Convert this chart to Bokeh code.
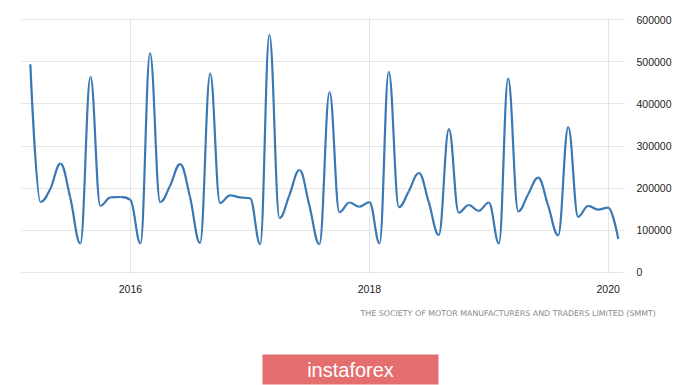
from datetime import datetime
from bokeh.plotting import figure
from bokeh.layouts import column
from bokeh.models import Range1d, FixedTicker, DatetimeTickFormatter, BasicTickFormatter, ColumnDataSource, Label, Title
from bokeh.core.properties import value
from bokeh.embed import file_html
from bokeh.resources import INLINE

# ---- data (monthly new car registrations, Mar 2015 - Feb 2020) ----
start_year, start_month = 2015, 3
registrations = [
    494000, 167000, 198000, 258000, 178000, 69000, 464000, 158000, 178000, 179000,            # 2015 Mar-Dec
    172000, 69000, 520000, 167000, 205000, 257000, 180000, 70000, 472000, 165000, 183000, 178000,  # 2016
    176000, 67000, 564000, 129000, 183000, 243000, 160000, 67000, 428000, 143000, 166000, 156000,  # 2017
    167000, 69000, 476000, 155000, 192000, 236000, 168000, 89000, 340000, 142000, 160000, 146000,  # 2018
    166000, 69000, 460000, 145000, 185000, 225000, 160000, 88000, 345000, 132000, 158000, 149000,  # 2019
    154000, 79500,                                                                             # 2020 Jan-Feb
]
x_tick_years = [2016, 2018, 2020]
y_ticks = [0, 100000, 200000, 300000, 400000, 500000, 600000]
source_text = "THE SOCIETY OF MOTOR MANUFACTURERS AND TRADERS LIMITED (SMMT)"
brand_text = "instaforex"


def ms(d):
    return (d - datetime(1970, 1, 1)).total_seconds() * 1000.0


dates = []
y, m = start_year, start_month
for _ in registrations:
    dates.append(datetime(y, m, 1))
    m += 1
    if m > 12:
        m = 1
        y += 1
xs = [ms(d) for d in dates]
ys = list(registrations)

# Highcharts-style spline control points
n = len(xs)
lcx, lcy, rcx, rcy = xs[:], ys[:], xs[:], ys[:]
sm = 1.5
den = sm + 1
for i in range(1, n - 1):
    px, py = xs[i], ys[i]
    lx, ly = xs[i - 1], ys[i - 1]
    nx, ny = xs[i + 1], ys[i + 1]
    a_x = (sm * px + lx) / den
    a_y = (sm * py + ly) / den
    b_x = (sm * px + nx) / den
    b_y = (sm * py + ny) / den
    corr = 0.0
    if b_x != a_x:
        corr = ((b_y - a_y) * (b_x - px)) / (b_x - a_x) + py - b_y
    a_y += corr
    b_y += corr
    if a_y > ly and a_y > py:
        a_y = max(ly, py)
        b_y = 2 * py - a_y
    elif a_y < ly and a_y < py:
        a_y = min(ly, py)
        b_y = 2 * py - a_y
    if b_y > ny and b_y > py:
        b_y = max(ny, py)
        a_y = 2 * py - b_y
    elif b_y < ny and b_y < py:
        b_y = min(ny, py)
        a_y = 2 * py - b_y
    lcx[i], lcy[i], rcx[i], rcy[i] = a_x, a_y, b_x, b_y

seg = ColumnDataSource(dict(
    x0=xs[:-1], y0=ys[:-1], x1=xs[1:], y1=ys[1:],
    cx0=rcx[:-1], cy0=rcy[:-1], cx1=lcx[1:], cy1=lcy[1:],
))

p = figure(width=700, height=295, x_axis_type="datetime", y_axis_location="right",
           output_backend="svg", toolbar_location=None,
           x_range=Range1d(ms(datetime(2015, 2, 2)), ms(datetime(2020, 2, 23))),
           y_range=Range1d(-2500, 602500),
           min_border_left=21, min_border_right=75, min_border_top=18, min_border_bottom=22)
p.outline_line_color = None
p.background_fill_color = "white"
p.border_fill_color = "white"

p.bezier(x0="x0", y0="y0", x1="x1", y1="y1", cx0="cx0", cy0="cy0", cx1="cx1", cy1="cy1",
         source=seg, line_color="#3a78b3", line_width=2.2)

p.xaxis.ticker = FixedTicker(ticks=[ms(datetime(yr, 1, 1)) for yr in x_tick_years])
p.xaxis.formatter = DatetimeTickFormatter(years="%Y", months="%Y", days="%Y", hours="%Y")
p.yaxis.ticker = FixedTicker(ticks=y_ticks)
p.yaxis.formatter = BasicTickFormatter(use_scientific=False)

for ax in (p.xaxis[0], p.yaxis[0]):
    ax.axis_line_color = None
    ax.major_tick_line_color = None
    ax.minor_tick_line_color = None
    ax.major_label_text_font = "Liberation Sans"
    ax.major_label_text_font_size = "10.5px"
    ax.major_label_text_color = "#222222"
p.yaxis.major_label_standoff = 5
p.xaxis.major_label_standoff = 5

p.xgrid.grid_line_color = "#c8c8c8"
p.xgrid.grid_line_dash = "1 1"
p.ygrid.grid_line_color = "#cccccc"
p.ygrid.grid_line_dash = "1 1"

# ---- footer (x and y in canvas pixels) ----
f = figure(width=700, height=90, output_backend="svg", toolbar_location=None,
           x_range=Range1d(21, 625), y_range=Range1d(385, 317),
           min_border_left=21, min_border_right=75, min_border_top=22, min_border_bottom=0)
f.axis.visible = False
f.grid.visible = False
f.outline_line_color = None
f.background_fill_color = "white"
f.border_fill_color = "white"
f.title = None
f.add_layout(Title(text=source_text, align="left", offset=339, standoff=0,
                   text_font="DejaVu Sans", text_font_size="7.9px", text_font_style="normal",
                   text_color="#8a8a8a"), "above")

f.quad(left=[262], right=[438], top=[354], bottom=[384], fill_color="#e46d6e", line_color=None)
f.add_layout(Label(x=350, y=369, text=brand_text, text_font="Liberation Sans",
                   text_font_size="20px", text_color="white",
                   text_baseline="middle", text_align="center"))

layout = column(p, f, spacing=0)
open("out.html", "w").write(file_html(layout, INLINE))
